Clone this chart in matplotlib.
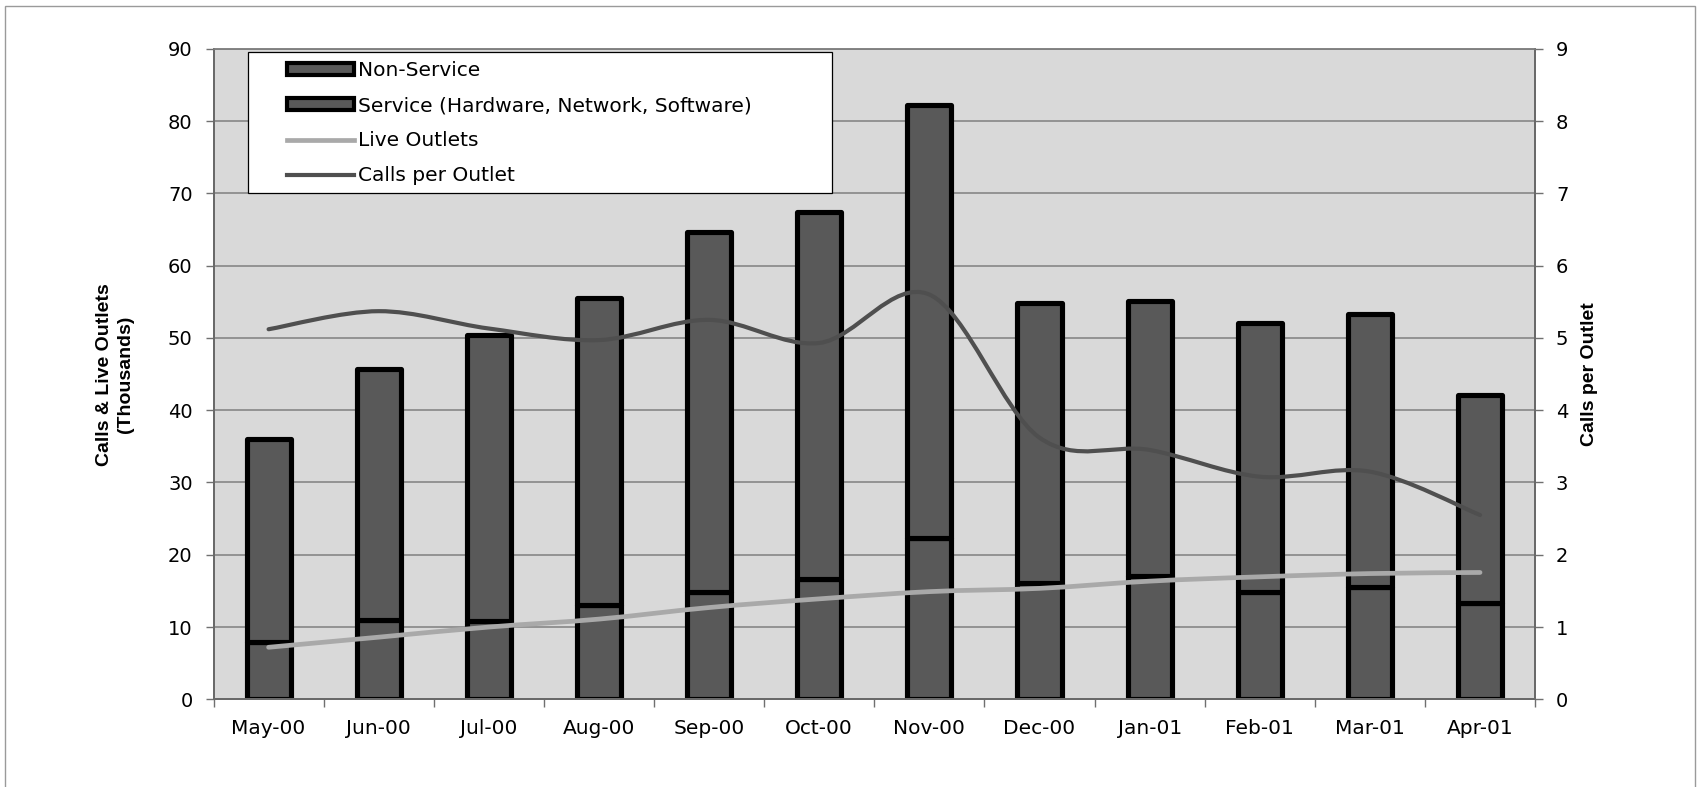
import matplotlib
matplotlib.use("Agg")
import matplotlib.pyplot as plt
from matplotlib.path import Path
from matplotlib.patches import PathPatch, Rectangle, Patch
from matplotlib.lines import Line2D
import numpy as np

# ---- data (thousands of calls / outlets, calls per outlet) ----
months = ['May-00', 'Jun-00', 'Jul-00', 'Aug-00', 'Sep-00', 'Oct-00',
          'Nov-00', 'Dec-00', 'Jan-01', 'Feb-01', 'Mar-01', 'Apr-01']
service = [8.0, 11.0, 10.8, 13.0, 14.9, 16.6, 22.3, 16.1, 17.1, 14.9, 15.6, 13.3]
non_service = [28.0, 34.7, 39.6, 42.5, 49.7, 50.8, 59.9, 38.7, 38.0, 37.1, 37.7, 28.8]
live_outlets = [7.2, 8.6, 10.0, 11.1, 12.7, 13.9, 14.9, 15.35, 16.35, 16.95, 17.4, 17.55]
calls_per_outlet = [5.12, 5.37, 5.13, 4.97, 5.25, 4.93, 5.6, 3.62, 3.45, 3.08, 3.15, 2.55]
left_ticks = list(range(0, 91, 10))
right_ticks = list(range(0, 10))

FONT = 'DejaVu Sans'
TITLE_FONT = 'Liberation Sans'
BAR_FILL = '#595959'
LINE_DARK = '#4f4f4f'
LINE_LIGHT = '#a9a9a9'
BG = '#d9d9d9'


def smooth_path(x, y):
    """Smoothed (Catmull-Rom style) Bezier path through the points."""
    pts = np.column_stack([x, y]).astype(float)
    ext = np.vstack([pts[0], pts, pts[-1]])
    verts = [pts[0]]
    codes = [Path.MOVETO]
    for i in range(len(pts) - 1):
        p0, p1, p2, p3 = ext[i], ext[i + 1], ext[i + 2], ext[i + 3]
        c1 = p1 + (p2 - p0) / 6.0
        c2 = p2 - (p3 - p1) / 6.0
        verts += [c1, c2, p2]
        codes += [Path.CURVE4] * 3
    return Path(verts, codes)


fig = plt.figure(figsize=(17, 7.87), dpi=100)
fig.patch.set_facecolor('white')
ax = fig.add_axes([0.1256, 0.1114, 0.9030 - 0.1256, 0.938 - 0.1114])
ax2 = ax.twinx()

x = np.arange(len(months))

ax.set_facecolor(BG)
ax.set_xlim(-0.5, len(months) - 0.5)
ax.set_ylim(0, 90)
ax2.set_ylim(0, 9)

# grid
ax.set_axisbelow(True)
ax.yaxis.grid(True, color='#808080', linewidth=1.1)
ax.xaxis.grid(False)

# stacked bars
edge_lw = 3.7
ax.bar(x, service, width=0.40, color=BAR_FILL, edgecolor='black',
       linewidth=edge_lw, zorder=2, joinstyle='round')
ax.bar(x, non_service, bottom=service, width=0.40, color=BAR_FILL,
       edgecolor='black', linewidth=edge_lw, zorder=2, joinstyle='round')

# smoothed lines
ax.add_patch(PathPatch(smooth_path(x, live_outlets), facecolor='none',
                       edgecolor=LINE_LIGHT, linewidth=3.4, zorder=4,
                       capstyle='round'))
ax2.add_patch(PathPatch(smooth_path(x, calls_per_outlet), facecolor='none',
                        edgecolor=LINE_DARK, linewidth=3.0, zorder=4,
                        capstyle='round'))

# ticks
ax.set_yticks(left_ticks)
ax2.set_yticks(right_ticks)
ax.set_xticks(np.arange(-0.5, len(months), 1.0))
ax.set_xticklabels([])
ax.set_xticks(x, minor=True)
ax.set_xticklabels(months, minor=True)
ax.tick_params(axis='x', which='major', length=6, width=1, color='#707070',
               direction='out')
ax.tick_params(axis='x', which='minor', length=0, pad=14, labelsize=14.5)
ax.tick_params(axis='y', length=6, width=1, color='#707070', pad=9,
               labelsize=14)
ax2.tick_params(axis='y', length=6, width=1, color='#707070', pad=9,
                labelsize=14)
for lab in ax.get_xticklabels(minor=True) + ax.get_yticklabels() + ax2.get_yticklabels():
    lab.set_fontfamily(FONT)
    lab.set_color('black')

for a in (ax, ax2):
    for side in ('left', 'right', 'bottom'):
        a.spines[side].set_color('#6a6a6a')
        a.spines[side].set_linewidth(1.4)
    a.spines['top'].set_color('#808080')
    a.spines['top'].set_linewidth(1.1)

# axis titles
fig.text(0.0676, 0.524, 'Calls & Live Outlets\n(Thousands)', rotation=90,
         ha='center', va='center', multialignment='center',
         fontsize=14, fontweight='bold', family=TITLE_FONT, linespacing=1.3)
fig.text(0.935, 0.524, 'Calls per Outlet', rotation=90, ha='center',
         va='center', fontsize=14, fontweight='bold', family=TITLE_FONT)

# legend box
ax2.add_patch(Rectangle((0.026, 0.778), 0.442, 0.217, transform=ax2.transAxes,
                        facecolor='white', edgecolor='black', linewidth=0.9,
                        zorder=8))
handles = [
    Patch(facecolor=BAR_FILL, edgecolor='black', linewidth=3.0),
    Patch(facecolor=BAR_FILL, edgecolor='black', linewidth=3.0),
    Line2D([], [], color=LINE_LIGHT, linewidth=3.4),
    Line2D([], [], color=LINE_DARK, linewidth=3.0),
]
labels = ['Non-Service', 'Service (Hardware, Network, Software)',
          'Live Outlets', 'Calls per Outlet']
leg = ax2.legend(handles, labels, loc='upper left',
                 bbox_to_anchor=(0.0487, 0.995), frameon=False,
                 prop={'family': FONT, 'size': 14.5}, handlelength=3.33,
                 handleheight=0.5, handletextpad=0.2, labelspacing=0.8,
                 borderpad=0.45, borderaxespad=0.0)
leg.set_zorder(9)

# outer border
fig.patches.append(Rectangle((0.003, -0.01), 0.994, 1.002,
                             transform=fig.transFigure, fill=False,
                             edgecolor='#9a9a9a', linewidth=1.0))

fig.savefig('out.png', dpi=100)
